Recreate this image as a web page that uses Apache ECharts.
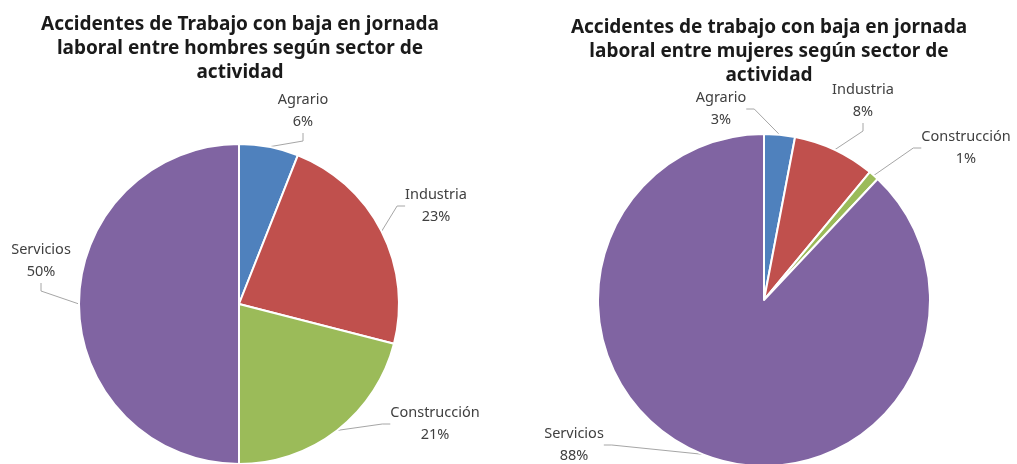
<!DOCTYPE html>
<html>
<head>
<meta charset="utf-8">
<script src="https://cdn.jsdelivr.net/npm/echarts@6/dist/echarts.min.js"></script>
<style>
  html, body { margin: 0; padding: 0; background: #fff; }
  #chart { width: 1017px; height: 464px; }
</style>
</head>
<body>
<div id="chart"></div>
<script>
// datos
const sectores = ['Agrario', 'Industria', 'Construcción', 'Servicios']
const hombres = [6, 23, 21, 50]
const mujeres = [3, 8, 1, 88]
const titulos = [
  'Accidentes de Trabajo con baja en jornada\nlaboral entre hombres según sector de\nactividad',
  'Accidentes de trabajo con baja en jornada\nlaboral entre mujeres según sector de\nactividad'
]

// posiciones de las etiquetas (centro del bloque de texto)
const etiquetasH = [[303, 111], [436, 206], [435, 424], [41, 261]]
const etiquetasM = [[721, 109], [863, 101], [966, 148], [574, 445]]

const colores = ['#4F81BD', '#C0504D', '#9BBB59', '#8064A2']

const chart = echarts.init(document.getElementById('chart'))

function serie(valores, centro, radio, etiquetas) {
  return {
    type: 'pie',
    center: centro,
    radius: radio,
    startAngle: 90,
    clockwise: true,
    animation: false,
    itemStyle: { borderColor: '#fff', borderWidth: 2 },
    label: {
      show: true,
      position: 'outside',
      formatter: '{b}\n{c}%',
      fontFamily: 'Noto Sans',
      fontSize: 14.5,
      lineHeight: 22,
      color: '#404040',
      align: 'center',
      overflow: 'none'
    },
    labelLine: {
      show: true,
      length: 10,
      length2: 8,
      lineStyle: { color: '#a6a6a6', width: 1 }
    },
    labelLayout: function (p) {
      const pos = etiquetas[p.dataIndex]
      return { x: pos[0], y: pos[1], align: 'center', verticalAlign: 'middle' }
    },
    data: sectores.map((s, i) => ({ name: s, value: valores[i] }))
  }
}

const estiloTitulo = { fontFamily: 'Noto Sans', fontWeight: 'bold', fontSize: 19, lineHeight: 24, color: '#1a1a1a' }

chart.setOption({
  backgroundColor: '#fff',
  color: colores,
  title: [
    { text: titulos[0], left: 235, top: 8, textAlign: 'center', textStyle: estiloTitulo },
    { text: titulos[1], left: 764, top: 11, textAlign: 'center', textStyle: estiloTitulo }
  ],
  series: [
    serie(hombres, [239, 304], 160, etiquetasH),
    serie(mujeres, [764, 300], 166, etiquetasM)
  ]
})

window.addEventListener('resize', function () {
  chart.resize()
})
</script>
</body>
</html>
